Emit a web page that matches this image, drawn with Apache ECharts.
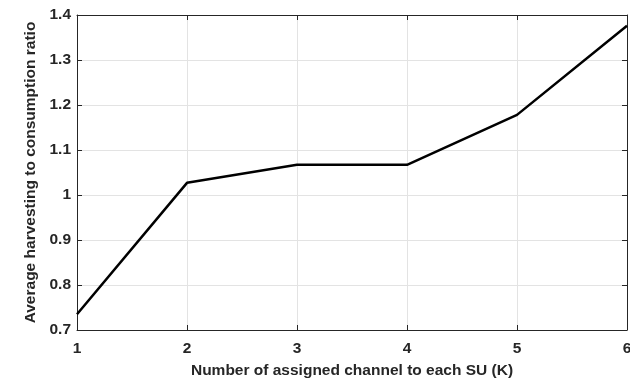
<!DOCTYPE html>
<html><head><meta charset="utf-8">
<script src="https://cdn.jsdelivr.net/npm/echarts@6/dist/echarts.min.js"></script>
<style>html,body{margin:0;padding:0;background:#fff}#c{width:630px;height:380px}</style>
</head><body><div id="c"></div>
<script>
const xValues = [1, 2, 3, 4, 5, 6];
const yValues = [0.735, 1.027, 1.067, 1.067, 1.178, 1.376];
const xTitle = 'Number of assigned channel to each SU (K)';
const yTitle = 'Average harvesting to consumption ratio';
const font = 'Liberation Sans, Arial, Helvetica, sans-serif';
const chart = echarts.init(document.getElementById('c'));
const axisLine = {show: true, lineStyle: {color: '#262626', width: 1}};
const tick = {show: true, inside: true, length: 5, lineStyle: {color: '#262626', width: 1}};
chart.setOption({
  animation: false,
  grid: {left: 77, right: 3, top: 15, bottom: 50, containLabel: false, outerBoundsMode: 'none'},
  xAxis: [{
    type: 'value', min: 1, max: 6, interval: 1,
    axisLine, axisTick: tick,
    axisLabel: {color: '#262626', fontSize: 15.5, fontWeight: 'bold', fontFamily: font, margin: 11},
    splitLine: {show: true, lineStyle: {color: '#e3e3e3', width: 1}},
    name: xTitle, nameLocation: 'middle', nameGap: 33,
    nameTextStyle: {color: '#262626', fontSize: 15.5, fontWeight: 'bold', fontFamily: font}
  }, {
    type: 'value', min: 1, max: 6, interval: 1, position: 'top',
    axisLine, axisTick: tick, axisLabel: {show: false}, splitLine: {show: false}
  }],
  yAxis: [{
    type: 'value', min: 0.7, max: 1.4, interval: 0.1,
    axisLine, axisTick: tick,
    axisLabel: {color: '#262626', fontSize: 15.5, fontWeight: 'bold', fontFamily: font, margin: 6,
      formatter: v => String(Math.round(v * 10) / 10)},
    splitLine: {show: true, lineStyle: {color: '#e3e3e3', width: 1}},
    name: yTitle, nameLocation: 'middle', nameGap: 30,
    nameTextStyle: {color: '#262626', fontSize: 15.5, fontWeight: 'bold', fontFamily: font}
  }, {
    type: 'value', min: 0.7, max: 1.4, interval: 0.1, position: 'right',
    axisLine, axisTick: tick, axisLabel: {show: false}, splitLine: {show: false}
  }],
  series: [{
    type: 'line',
    data: xValues.map((x, i) => [x, yValues[i]]),
    symbol: 'none',
    lineStyle: {color: '#000', width: 2.5},
    clip: false
  }]
});
</script></body></html>
